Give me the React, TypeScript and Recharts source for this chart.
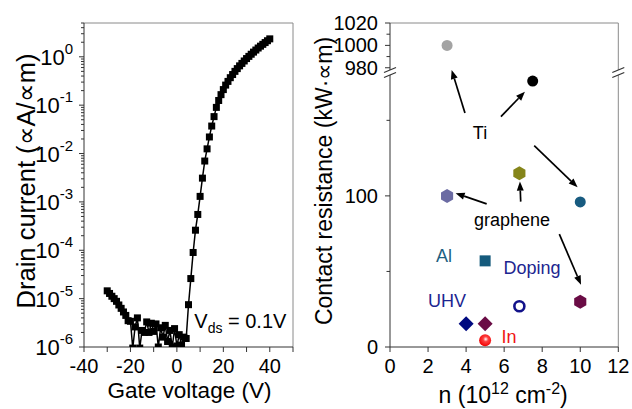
import { ComposedChart, ScatterChart, Line, Scatter, XAxis, YAxis, ReferenceLine, Label } from 'recharts'

// left panel: transfer curve
const gateVoltage = [
  -30, -29, -28, -27, -26, -25, -24, -23, -22, -21, -20, -19, -18, -17, -16, -15, -14, -13, -12, -11,
  -10, -9, -8, -7, -6, -5, -4, -3, -2, -1, 0, 1, 2, 3, 4, 5, 6, 7, 8, 9, 10, 11, 12, 13, 14, 15, 16,
  17, 18, 19, 20, 21, 22, 23, 24, 25, 26, 27, 28, 29, 30, 31, 32, 33, 34, 35, 36, 37, 38, 39, 40,
]
const drainCurrent = [
  1.45e-5, 1.28e-5, 1.12e-5, 1.0e-5, 8.8e-6, 7.4e-6, 6.3e-6, 5.3e-6, 4.5e-6, 3.5e-6, 3.4e-6,
  9.5e-7, 2.6e-6, 4.0e-6, 9.5e-7, 2.2e-6, 2.0e-6, 3.3e-6, 2.0e-6, 3.1e-6, 2.1e-6,
  3.0e-6, 1.0e-6, 2.5e-6, 1.6e-6, 2.8e-6, 1.3e-6, 2.2e-6, 1.0e-6, 2.4e-6, 1.05e-6,
  1.8e-6, 1.1e-6, 1.6e-6, 1.5e-6, 7.5e-6, 2.6e-5, 9e-5, 2.6e-4, 5.5e-4, 1.3e-3,
  3.1e-3, 7e-3, 1.25e-2, 2.2e-2, 3.7e-2, 5.8e-2, 0.09, 0.125, 0.165, 0.21,
  0.26, 0.31, 0.37, 0.43, 0.5, 0.57, 0.65, 0.73, 0.82, 0.92,
  1.02, 1.13, 1.25, 1.38, 1.52, 1.66, 1.81, 1.97, 2.15, 2.35,
]
const currentDecades = [1e-6, 1e-5, 1e-4, 1e-3, 1e-2, 1e-1, 1]
const minorSteps = [2, 3, 4, 5, 6, 7, 8, 9]
const gateTicks = [-40, -30, -20, -10, 0, 10, 20, 30, 40, 50]
const gateLabels = [-40, -20, 0, 20, 40]

// right panel: contact resistance vs carrier density
const contactNames = ['Ti', 'Ti', 'graphene', 'graphene', 'Ti', 'Al', 'Doping', 'graphene', 'UHV', 'UHV', 'In']
const densityN = [3, 7.5, 6.8, 3, 10, 5, 6.8, 10, 4, 5, 5]
const resistance = [1000, 176, 115, 100, 96, 57, 27, 30, 15.4, 15.4, 4.4]
const nTicks = [0, 2, 4, 6, 8, 10, 12]
const lowTicks = [0, 50, 100, 150]
const lowLabels = [0, 100]
const highTicks = [980, 990, 1000, 1010, 1020]
const highLabels = [980, 1000, 1020]

const noteText = ['Ti', 'graphene', 'Al', 'Doping', 'UHV', 'In']
const noteN = [4.73, 6.41, 2.84, 7.46, 3.0, 6.25]
const noteR = [141.8, 84.1, 60.3, 52.3, 30.6, 6.8]

const arrowFromN = [3.94, 5.83, 7.58, 5.08, 6.87, 8.9]
const arrowFromR = [154.8, 152.4, 133.2, 94.7, 96.2, 74.7]
const arrowToN = [3.24, 7.09, 9.86, 3.45, 6.83, 10.04]
const arrowToR = [183.3, 168.9, 105.7, 101.8, 109.5, 41.2]

const FONT = "'Liberation Sans', Arial, sans-serif"
const AXIS = '#333'
const FRAME = '#8a8a8a'

const markerStyle = [
  { kind: 'circle', fill: '#a3a3a3', r: 5.5 },
  { kind: 'circle', fill: '#000000', r: 5.5 },
  { kind: 'hex', fill: '#85851a', r: 7 },
  { kind: 'hex', fill: '#6b6ba3', r: 7 },
  { kind: 'circle', fill: '#185b80', r: 5.5 },
  { kind: 'square', fill: '#155a7c', r: 5.5 },
  { kind: 'ring', fill: '#12128a', r: 5 },
  { kind: 'hex', fill: '#6a0c45', r: 7 },
  { kind: 'diamond', fill: '#000a80', r: 7.5 },
  { kind: 'diamond', fill: '#6a0c45', r: 7.5 },
  { kind: 'ball', fill: '#ff0000', r: 6 },
]
const noteColor = ['#000', '#000', '#1d5f82', '#1c2590', '#1c2590', '#f01414']

const curveData = gateVoltage.map((vg, i) => ({ vg, current: drainCurrent[i] }))
const vdsNote = [{ vg: 7.5, current: 2.5e-6 }]
const logTicks = currentDecades.flatMap((d) => [d, ...minorSteps.map((m) => m * d)]).filter((v) => v <= 5)
const contactData = densityN.map((n, i) => ({ n, R: resistance[i], idx: i, name: contactNames[i] }))
const highData = contactData.filter((d) => d.R > 900)
const lowData = contactData.filter((d) => d.R < 900)
const noteData = noteText.map((text, i) => ({ n: noteN[i], R: noteR[i], idx: i, text }))

const isDecade = (v: number) => Math.abs(Math.log10(v) - Math.round(Math.log10(v))) < 1e-6

const LogTick = (p: any) => {
  const v = p.payload.value
  const major = isDecade(v)
  return (
    <g>
      <line x1={p.x - (major ? 5 : 3)} x2={p.x} y1={p.y} y2={p.y} stroke={AXIS} />
      {major && (
        <text x={p.x - 11} y={p.y + 8} textAnchor="end" fontSize={22} fontFamily={FONT} fill="#000">
          10<tspan dy={-11} fontSize={15}>{Math.round(Math.log10(v))}</tspan>
        </text>
      )}
    </g>
  )
}

const makeXTick = (labels: number[]) => (p: any) => {
  const v = p.payload.value
  const major = labels.includes(v)
  return (
    <g>
      <line x1={p.x} x2={p.x} y1={p.y} y2={p.y + 5} stroke={AXIS} />
      {major && (
        <text x={p.x} y={p.y + 26} textAnchor="middle" fontSize={20} fontFamily={FONT} fill="#000">
          {v}
        </text>
      )}
    </g>
  )
}

const makeYTick = (labels: number[]) => (p: any) => {
  const v = p.payload.value
  const major = labels.includes(v)
  return (
    <g>
      <line x1={p.x - (major ? 5 : 3.5)} x2={p.x} y1={p.y} y2={p.y} stroke={AXIS} />
      {major && (
        <text x={p.x - 12} y={p.y + 7} textAnchor="end" fontSize={20} fontFamily={FONT} fill="#000">
          {v}
        </text>
      )}
    </g>
  )
}

const Square = (p: any) => (
  <rect key={`sq-${p.index}`} x={p.cx - 3.5} y={p.cy - 3.5} width={7} height={7} fill="#000" />
)

const VdsText = (p: any) => (
  <text x={p.cx} y={p.cy} fontSize={20} fontFamily={FONT} fill="#000">
    V<tspan fontSize={14} dy={5}>ds</tspan>
    <tspan dy={-5}> = 0.1V</tspan>
  </text>
)

const hexPoints = (cx: number, cy: number, r: number) =>
  [0, 1, 2, 3, 4, 5]
    .map((k) => {
      const a = (Math.PI / 3) * k - Math.PI / 2
      return `${cx + r * Math.cos(a)},${cy + r * Math.sin(a)}`
    })
    .join(' ')

const Marker = (p: any) => {
  const s = markerStyle[p.payload.idx]
  const { cx, cy } = p
  if (s.kind === 'circle') return <circle cx={cx} cy={cy} r={s.r} fill={s.fill} />
  if (s.kind === 'ring') return <circle cx={cx} cy={cy} r={s.r} fill="#fff" stroke={s.fill} strokeWidth={2.6} />
  if (s.kind === 'square')
    return <rect x={cx - s.r} y={cy - s.r} width={2 * s.r} height={2 * s.r} fill={s.fill} />
  if (s.kind === 'hex') return <polygon points={hexPoints(cx, cy, s.r)} fill={s.fill} />
  if (s.kind === 'diamond')
    return (
      <polygon
        points={`${cx},${cy - s.r} ${cx + s.r},${cy} ${cx},${cy + s.r} ${cx - s.r},${cy}`}
        fill={s.fill}
      />
    )
  return (
    <g>
      <defs>
        <radialGradient id="inBall" cx="0.55" cy="0.4" r="0.6">
          <stop offset="0" stopColor="#ffffff" />
          <stop offset="0.35" stopColor="#ff4040" />
          <stop offset="1" stopColor="#ee0000" />
        </radialGradient>
      </defs>
      <circle cx={cx} cy={cy} r={s.r} fill="url(#inBall)" />
    </g>
  )
}

const Note = (p: any) => (
  <text
    x={p.cx}
    y={p.cy}
    textAnchor="middle"
    dominantBaseline="central"
    fontSize={18}
    fontFamily={FONT}
    fill={noteColor[p.payload.idx]}
  >
    {p.payload.text}
  </text>
)

const Arrow = (p: any) => {
  const { x1, y1, x2, y2 } = p
  const a = Math.atan2(y2 - y1, x2 - x1)
  const L = 9
  const W = 3.5
  const bx = x2 - L * Math.cos(a)
  const by = y2 - L * Math.sin(a)
  const px = -Math.sin(a) * W
  const py = Math.cos(a) * W
  return (
    <g>
      <line x1={x1} y1={y1} x2={bx} y2={by} stroke="#000" strokeWidth={1.7} />
      <polygon points={`${x2},${y2} ${bx + px},${by + py} ${bx - px},${by - py}`} fill="#000" />
    </g>
  )
}

const titleStyle = { fontSize: 23, fontFamily: FONT, fill: '#000' }

export default function App() {
  return (
    <div style={{ position: 'absolute', left: 0, top: 0, width: 632, height: 409, background: '#fff' }}>
      <div style={{ position: 'absolute', left: 0, top: 0 }}>
        <ComposedChart width={320} height={409} data={curveData} margin={{ top: 23, right: 27, bottom: 0, left: 0 }}>
          <XAxis
            dataKey="vg"
            type="number"
            domain={[-40, 50]}
            ticks={gateTicks}
            interval={0}
            allowDataOverflow
            height={62}
            tickSize={0}
            tickMargin={0}
            tickLine={false}
            stroke={AXIS}
            tick={makeXTick(gateLabels)}
          >
            <Label
              content={(p: any) => (
                <text x={p.viewBox.x + p.viewBox.width / 2 + 1} y={398} textAnchor="middle" {...titleStyle} fontSize={22.5}>
                  Gate voltage (V)
                </text>
              )}
            />
          </XAxis>
          <YAxis
            dataKey="current"
            type="number"
            scale="log"
            domain={[1e-6, 5]}
            ticks={logTicks}
            interval={0}
            allowDataOverflow
            width={84}
            tickSize={0}
            tickMargin={0}
            tickLine={false}
            stroke={AXIS}
            tick={LogTick}
          >
            <Label
              content={() => (
                <text transform="translate(35, 181) rotate(-90)" textAnchor="middle" {...titleStyle} fontSize={25.5}>
                  Drain current (∝A/∝m)
                </text>
              )}
            />
          </YAxis>
          <ReferenceLine y={5} stroke={FRAME} ifOverflow="visible" />
          <ReferenceLine x={50} stroke={FRAME} ifOverflow="visible" />
          <Line
            dataKey="current"
            stroke="#000"
            strokeWidth={1.5}
            dot={Square}
            activeDot={false}
            isAnimationActive={false}
          />
          <Scatter data={vdsNote} shape={VdsText} isAnimationActive={false} />
        </ComposedChart>
      </div>

      <div style={{ position: 'absolute', left: 300, top: 0 }}>
        <ScatterChart width={332} height={409} margin={{ top: 75, right: 13.7, bottom: 0, left: 0 }}>
          <XAxis
            dataKey="n"
            type="number"
            domain={[0, 12]}
            ticks={nTicks}
            interval={0}
            height={62}
            tickSize={0}
            tickMargin={0}
            tickLine={false}
            stroke={AXIS}
            tick={makeXTick(nTicks)}
          >
            <Label
              content={(p: any) => (
                <text x={p.viewBox.x + p.viewBox.width / 2 - 1} y={403} textAnchor="middle" {...titleStyle}>
                  n (10<tspan dy={-9} fontSize={16}>12</tspan>
                  <tspan dy={9}> cm</tspan>
                  <tspan dy={-9} fontSize={16}>-2</tspan>
                  <tspan dy={9}>)</tspan>
                </text>
              )}
            />
          </XAxis>
          <YAxis
            dataKey="R"
            type="number"
            domain={[0, 180]}
            ticks={lowTicks}
            interval={0}
            width={90}
            tickSize={0}
            tickMargin={0}
            tickLine={false}
            stroke={AXIS}
            tick={makeYTick(lowLabels)}
          >
            <Label
              content={() => (
                <text transform="translate(32, 181) rotate(-90)" textAnchor="middle" {...titleStyle}>
                  Contact resistance (kW·∝m)
                </text>
              )}
            />
          </YAxis>
          <ReferenceLine x={12} stroke={FRAME} ifOverflow="visible" />
          {arrowFromN.map((n, i) => (
            <ReferenceLine
              key={`arrow-${i}`}
              segment={[
                { x: n, y: arrowFromR[i] },
                { x: arrowToN[i], y: arrowToR[i] },
              ]}
              ifOverflow="visible"
              shape={Arrow}
            />
          ))}
          <Scatter data={noteData} shape={Note} isAnimationActive={false} />
          <Scatter data={lowData} shape={Marker} isAnimationActive={false} />
        </ScatterChart>
      </div>

      <div style={{ position: 'absolute', left: 300, top: 0 }}>
        <ScatterChart width={332} height={90} margin={{ top: 23, right: 13.7, bottom: 20, left: 0 }}>
          <XAxis dataKey="n" type="number" domain={[0, 12]} hide />
          <YAxis
            dataKey="R"
            type="number"
            domain={[978, 1020]}
            ticks={highTicks}
            interval={0}
            allowDataOverflow
            width={90}
            tickSize={0}
            tickMargin={0}
            tickLine={false}
            stroke={AXIS}
            tick={makeYTick(highLabels)}
          />
          <ReferenceLine y={1020} stroke={FRAME} ifOverflow="visible" />
          <ReferenceLine x={12} stroke={FRAME} ifOverflow="visible" />
          <Scatter data={highData} shape={Marker} isAnimationActive={false} />
        </ScatterChart>
      </div>

      <svg width={632} height={409} style={{ position: 'absolute', left: 0, top: 0, pointerEvents: 'none' }}>
        {[390, 618.3].map((x) => (
          <g key={x} stroke={AXIS} strokeWidth={1.2}>
            <line x1={x - 6} y1={72.5} x2={x + 6} y2={67.5} />
            <line x1={x - 6} y1={77.5} x2={x + 6} y2={72.5} />
          </g>
        ))}
      </svg>
    </div>
  )
}
